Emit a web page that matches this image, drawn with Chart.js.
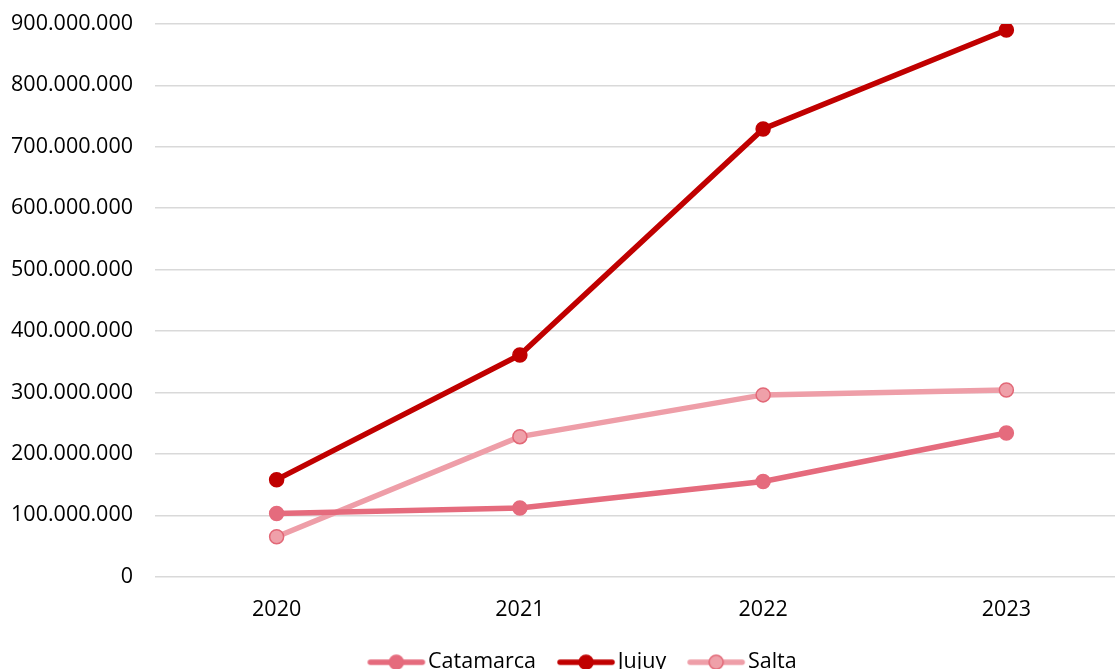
<!DOCTYPE html>
<html>
<head>
<meta charset="utf-8">
<script src="https://cdn.jsdelivr.net/npm/chart.js@4.4.1/dist/chart.umd.min.js"></script>
<style>
  html, body { margin: 0; padding: 0; background: #fff; overflow: hidden; }
  #wrap { position: absolute; left: 0; top: -11px; width: 1160px; height: 697px; }
</style>
</head>
<body>
<div id="wrap"><canvas id="myChart"></canvas></div>
<script>
// data
const years = ["2020", "2021", "2022", "2023"];
const catamarca = [103000000, 112000000, 155000000, 234000000];
const jujuy = [158000000, 361000000, 729000000, 890000000];
const salta = [65000000, 228000000, 296000000, 304000000];

const fontFam = "'Open Sans', 'Liberation Sans', sans-serif";

// legend sample: line with a dot in the middle (image wider than the box so it sits off-centre)
const makeIcon = (lineColor, fill, border) => {
  const c = document.createElement("canvas");
  c.width = 100;
  c.height = 18;
  const ctx = c.getContext("2d");
  ctx.strokeStyle = lineColor;
  ctx.lineWidth = 5.5;
  ctx.lineCap = "round";
  ctx.beginPath();
  ctx.moveTo(34, 9);
  ctx.lineTo(86, 9);
  ctx.stroke();
  ctx.beginPath();
  ctx.arc(60, 9, 7, 0, Math.PI * 2);
  ctx.fillStyle = fill;
  ctx.fill();
  ctx.lineWidth = 1.5;
  ctx.strokeStyle = border;
  ctx.stroke();
  return c;
};

const fmt = (v) => String(Math.round(v)).replace(/\B(?=(\d{3})+(?!\d))/g, ".");

const series = [
  { label: "Catamarca", data: catamarca, line: "#E56B7D", fill: "#E56B7D", border: "#E56B7D" },
  { label: "Jujuy", data: jujuy, line: "#C00000", fill: "#C00000", border: "#C00000" },
  { label: "Salta", data: salta, line: "#EE9EA8", fill: "#EFA0A9", border: "#E26877" },
];

const data = {
  labels: years,
  datasets: series.map((s) => ({
    label: s.label,
    data: s.data,
    borderColor: s.line,
    backgroundColor: s.fill,
    borderWidth: 5.5,
    pointRadius: 7,
    pointBorderWidth: 1.5,
    pointBackgroundColor: s.fill,
    pointBorderColor: s.border,
    pointStyle: "circle",
    tension: 0,
    fill: false,
  })),
};

const icons = series.map((s) => makeIcon(s.line, s.fill, s.border));

// nudge the legend a little to the right, like the original
const legendShift = {
  id: "legendShift",
  afterLayout: (chart) => {
    if (chart.legend) {
      chart.legend.left += 12;
      chart.legend.right += 12;
    }
  },
};

const config = {
  type: "line",
  data: data,
  plugins: [legendShift],
  options: {
    responsive: true,
    maintainAspectRatio: false,
    animation: false,
    layout: { padding: { top: 3, right: 32, left: 0, bottom: 3 } },
    plugins: {
      tooltip: { enabled: false },
      legend: {
        position: "bottom",
        labels: {
          usePointStyle: true,
          pointStyleWidth: 62,
          boxHeight: 18,
          padding: 9,
          color: "#000",
          font: { family: fontFam, size: 21.5 },
          generateLabels: (chart) =>
            chart.data.datasets.map((ds, i) => ({
              text: ds.label,
              pointStyle: icons[i],
              fillStyle: ds.backgroundColor,
              strokeStyle: ds.borderColor,
              lineWidth: 0,
              hidden: false,
              datasetIndex: i,
              fontColor: "#000",
            })),
        },
      },
    },
    scales: {
      x: {
        offset: true,
        grid: { display: false, drawTicks: false },
        border: { display: false },
        ticks: { color: "#000", padding: 20, font: { family: fontFam, size: 21.5 } },
      },
      y: {
        min: 0,
        max: 900000000,
        afterFit: (scale) => { scale.width = 155; },
        grid: { color: "#D9D9D9", lineWidth: 1.5, drawTicks: false },
        border: { display: false },
        ticks: {
          stepSize: 100000000,
          color: "#000",
          padding: 22,
          font: { family: fontFam, size: 21.5 },
          callback: (v) => fmt(v),
        },
      },
    },
  },
};

const myChart = new Chart(document.getElementById("myChart"), config);
</script>
</body>
</html>
